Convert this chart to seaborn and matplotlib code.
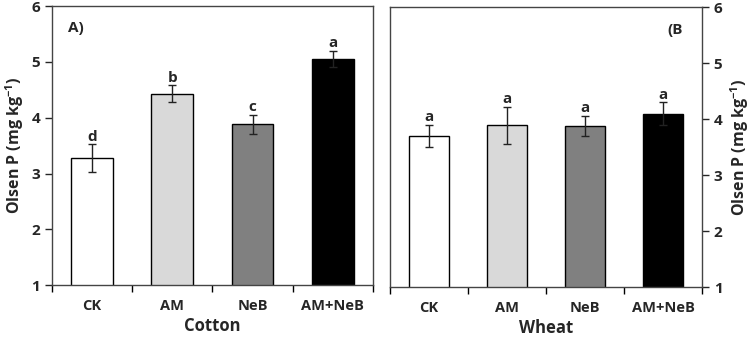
import numpy as np
import pandas as pd
import matplotlib
matplotlib.use("Agg")
import matplotlib.pyplot as plt
import seaborn as sns

# data
treatments = ["CK", "AM", "NeB", "AM+NeB"]
cotton_mean = [3.27, 4.43, 3.88, 5.05]
cotton_err = [0.25, 0.15, 0.17, 0.15]
cotton_letters = ["d", "b", "c", "a"]
wheat_mean = [3.70, 3.89, 3.88, 4.10]
wheat_err = [0.20, 0.33, 0.18, 0.20]
wheat_letters = ["a", "a", "a", "a"]
bar_colors = ["#ffffff", "#d9d9d9", "#808080", "#000000"]

sns.set_theme(style="white")
plt.rcParams["font.family"] = ["Open Sans", "DejaVu Sans"]
plt.rcParams["font.weight"] = "bold"
plt.rcParams["mathtext.fontset"] = "custom"
plt.rcParams["mathtext.rm"] = "Open Sans:bold"
plt.rcParams["mathtext.bf"] = "Open Sans:bold"
plt.rcParams["mathtext.default"] = "rm"

fig = plt.figure(figsize=(7.5, 3.39), dpi=100)
ax1 = fig.add_axes([0.0693, 0.159, 0.428, 0.823])
ax2 = fig.add_axes([0.520, 0.153, 0.416, 0.826])


def panel(ax, means, errs, letters, xlabel, tag, tag_x, right=False):
    df = pd.DataFrame({"Treatment": treatments, "P": means})
    sns.barplot(data=df, x="Treatment", y="P", hue="Treatment", palette=bar_colors,
                edgecolor="black", linewidth=1.0, width=0.52, legend=False, ax=ax)
    ax.errorbar(range(len(means)), means, yerr=errs, fmt="none", ecolor="#222222",
                elinewidth=1.0, capsize=3, capthick=1.0)
    for i, (m, e, t) in enumerate(zip(means, errs, letters)):
        ax.text(i, m + e + 0.01, t, ha="center", va="bottom", fontsize=11,
                fontweight="bold")
    ax.set_ylim(1, 6)
    ax.set_xlim(-0.5, 3.5)
    ax.set_yticks([1, 2, 3, 4, 5, 6])
    ax.set_xticks([-0.5, 0.5, 1.5, 2.5, 3.5])
    ax.set_xticklabels([])
    ax.set_xticks(range(4), minor=True)
    ax.set_xticklabels(treatments, minor=True, fontsize=10.5, fontweight="bold")
    ax.tick_params(axis="x", which="minor", length=0, pad=10)
    ax.tick_params(axis="x", which="major", direction="out", length=5, width=1,
                   bottom=True, color="black")
    ax.tick_params(axis="y", direction="out", length=5, width=1, labelsize=11)
    for lab in ax.get_yticklabels():
        lab.set_fontweight("bold")
    ax.set_xlabel(xlabel, fontsize=12, fontweight="bold", labelpad=3)
    ylab = "Olsen P (mg kg$^{-1}$)"
    if right:
        ax.yaxis.tick_right()
        ax.yaxis.set_label_position("right")
        ax.tick_params(axis="y", left=False, right=True)
    else:
        ax.tick_params(axis="y", left=True)
    ax.set_ylabel(ylab, fontsize=11.5, fontweight="bold")
    for s in ax.spines.values():
        s.set_color("#444444")
        s.set_linewidth(1.0)
    ax.text(tag_x, 5.6, tag, fontsize=11, fontweight="bold", ha="left", va="center")


panel(ax1, cotton_mean, cotton_err, cotton_letters, "Cotton", "A)", -0.3)
panel(ax2, wheat_mean, wheat_err, wheat_letters, "Wheat", "(B", 3.05, right=True)

fig.savefig("out.png", dpi=100)
